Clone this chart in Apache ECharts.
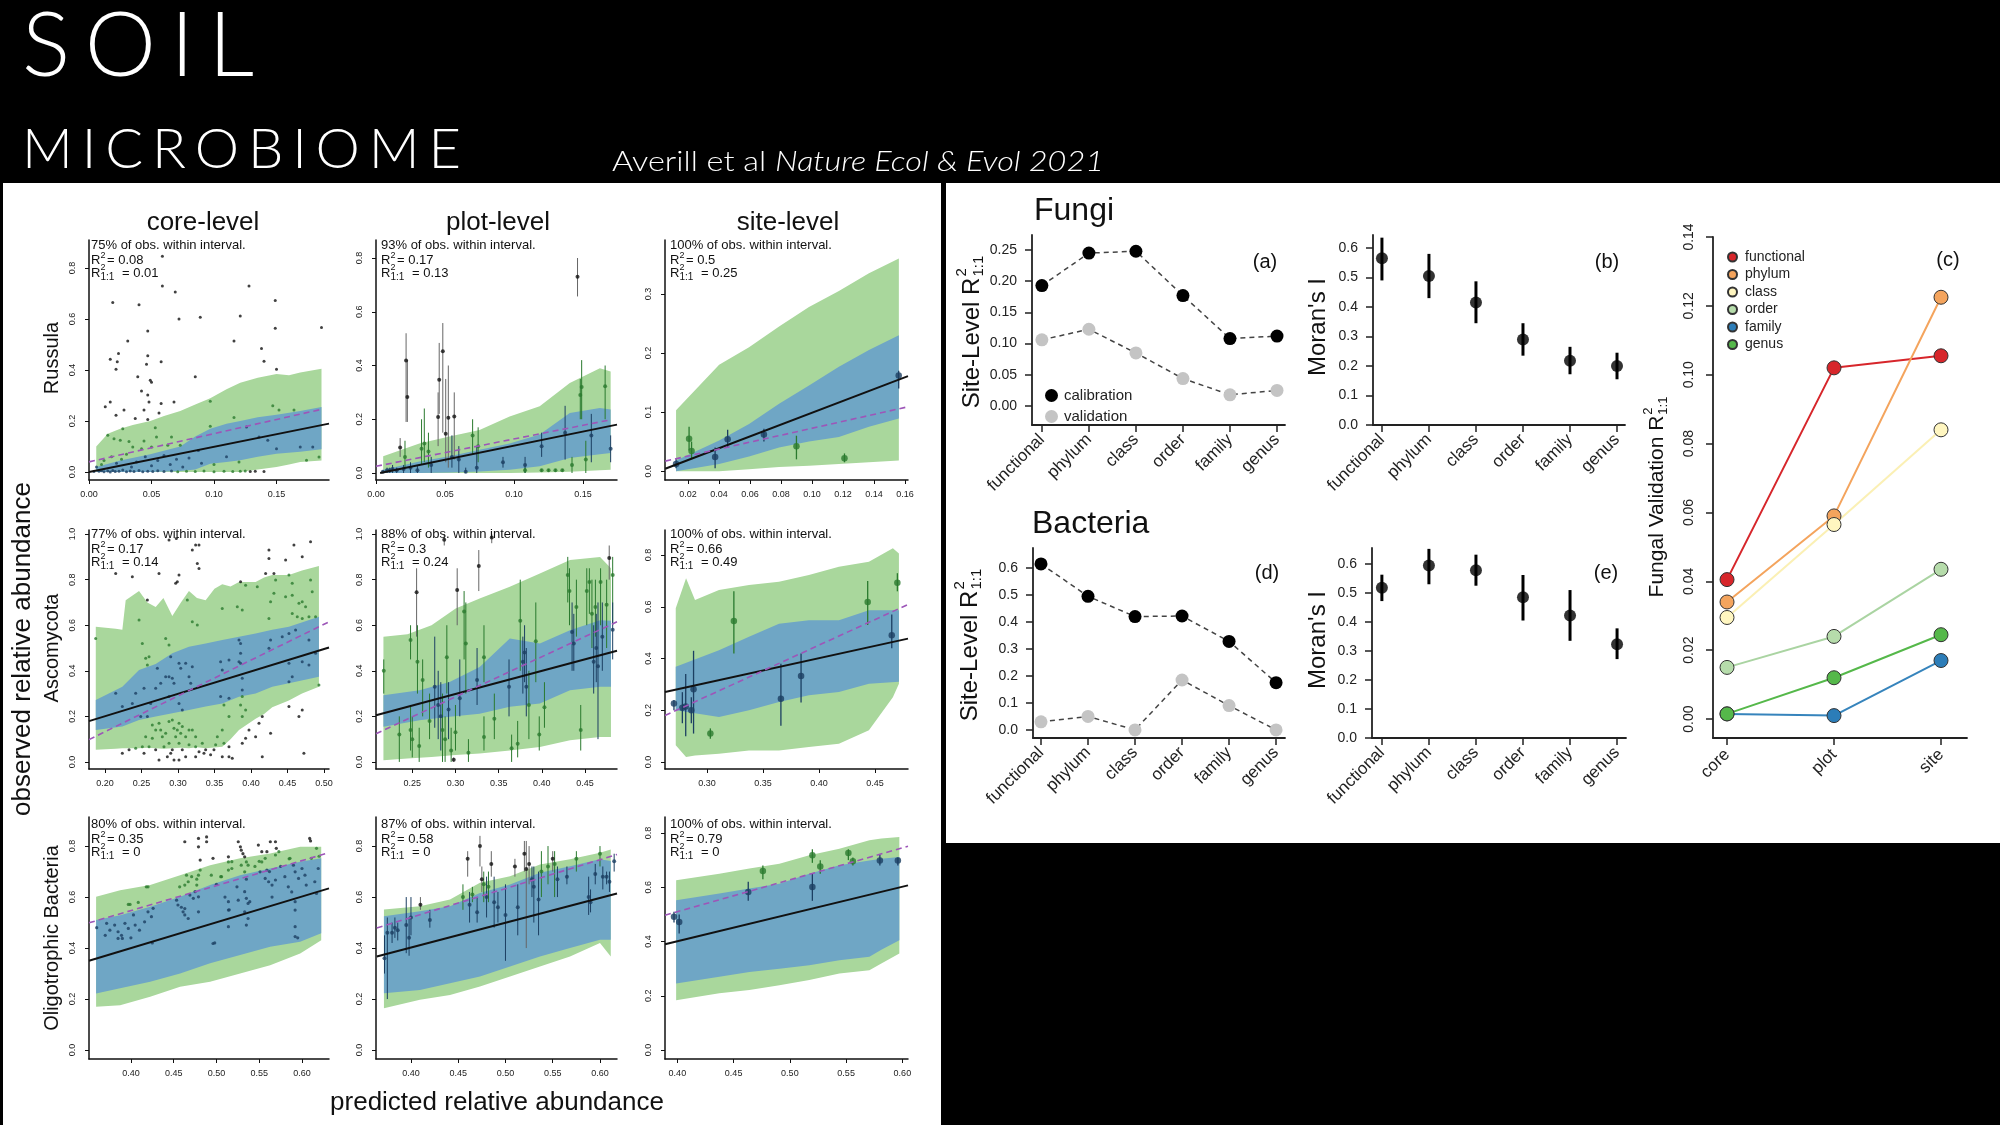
<!DOCTYPE html>
<html>
<head>
<meta charset="utf-8">
<title>Soil microbiome</title>
<script src="https://cdn.jsdelivr.net/npm/echarts@6/dist/echarts.min.js"></script>
<style>
  html, body { margin: 0; padding: 0; background: #000; }
  #chart { width: 2000px; height: 1125px; }
</style>
</head>
<body>
<div id="chart"></div>
<script>
// ---------- data: right side summary panels ----------
var taxLevels = ['functional', 'phylum', 'class', 'order', 'family', 'genus'];
var fungiCalib = [0.193, 0.245, 0.248, 0.177, 0.108, 0.112];
var fungiValid = [0.106, 0.123, 0.085, 0.044, 0.018, 0.025];
var fungiMoran = [0.565, 0.505, 0.415, 0.29, 0.218, 0.2];
var fungiMoranLo = [0.49, 0.43, 0.345, 0.235, 0.172, 0.155];
var fungiMoranHi = [0.635, 0.58, 0.487, 0.345, 0.265, 0.245];
var bactCalib = [0.615, 0.495, 0.42, 0.422, 0.328, 0.175];
var bactValid = [0.03, 0.05, 0.0, 0.185, 0.09, 0.0];
var bactMoran = [0.518, 0.595, 0.578, 0.485, 0.422, 0.323];
var bactMoranLo = [0.472, 0.53, 0.525, 0.405, 0.335, 0.272];
var bactMoranHi = [0.563, 0.652, 0.632, 0.562, 0.51, 0.378];

var scaleLevels = ['core', 'plot', 'site'];
var valFunctional = [0.0405, 0.102, 0.1055];
var valPhylum = [0.034, 0.059, 0.1225];
var valClass = [0.0295, 0.0565, 0.084];
var valOrder = [0.015, 0.024, 0.0435];
var valFamily = [0.0015, 0.001, 0.017];
var valGenus = [0.0015, 0.012, 0.0245];

var ticksFungiR2 = [0, 0.05, 0.10, 0.15, 0.20, 0.25];
var ticksBactR2 = [0, 0.1, 0.2, 0.3, 0.4, 0.5, 0.6];
var ticksMoran = [0, 0.1, 0.2, 0.3, 0.4, 0.5, 0.6];
var ticksFungalVal = [0, 0.02, 0.04, 0.06, 0.08, 0.10, 0.12, 0.14];

// ---------- data: left 3x3 grid ----------
var ticksRussCoreX = [0, 0.05, 0.10, 0.15];
var ticksRussPlotX = [0, 0.05, 0.10, 0.15];
var ticksRussSiteX = [0.02, 0.04, 0.06, 0.08, 0.10, 0.12, 0.14, 0.16];
var ticksAscoCoreX = [0.20, 0.25, 0.30, 0.35, 0.40, 0.45, 0.50];
var ticksAscoPlotX = [0.25, 0.30, 0.35, 0.40, 0.45];
var ticksAscoSiteX = [0.30, 0.35, 0.40, 0.45];
var ticksOligoX = [0.40, 0.45, 0.50, 0.55, 0.60];
var ticksY08 = [0, 0.2, 0.4, 0.6, 0.8];
var ticksY10 = [0, 0.2, 0.4, 0.6, 0.8, 1.0];
var ticksY03 = [0, 0.1, 0.2, 0.3];

var pctWithin = ['75%', '93%', '100%', '77%', '88%', '100%', '80%', '87%', '100%'];
var r2All = ['0.08', '0.17', '0.5', '0.17', '0.3', '0.66', '0.35', '0.58', '0.79'];
var r2OneToOne = ['0.01', '0.13', '0.25', '0.14', '0.24', '0.49', '0', '0', '0'];

// bands: [x, lower, upper]
var russCore95 = [[0.0058,0,0.10],[0.015,0,0.15],[0.025,0,0.17],[0.035,0,0.185],[0.049,0,0.20],[0.06,0,0.22],[0.073,0,0.24],[0.085,0,0.265],[0.097,0,0.29],[0.11,0,0.325],[0.121,0,0.35],[0.135,0.01,0.37],[0.15,0.02,0.385],[0.16,0.03,0.38],[0.169,0.04,0.39],[0.186,0.045,0.405]];
var russCore50 = [[0.0058,0,0.02],[0.025,0,0.045],[0.049,0,0.07],[0.073,0.004,0.10],[0.085,0.01,0.14],[0.097,0.033,0.17],[0.11,0.04,0.19],[0.121,0.046,0.20],[0.135,0.06,0.215],[0.15,0.072,0.225],[0.169,0.08,0.24],[0.186,0.09,0.255]];
var russCoreFit = [[0, 0], [0.192, 0.19]];
var russCoreOne = [[0, 0.04], [0.185, 0.245]];
var russCorePts = [[0.0587,0.846],[0.128,0.73],[0.0587,0.73],[0.069,0.706],[0.019,0.665],[0.040,0.656],[0.072,0.6],[0.089,0.607],[0.121,0.612],[0.149,0.673],[0.149,0.564],[0.186,0.567],[0.031,0.514],[0.116,0.514],[0.138,0.485],[0.047,0.553],[0.017,0.442],[0.0226,0.433],[0.0236,0.465],[0.047,0.456],[0.046,0.423],[0.0577,0.433],[0.0216,0.403],[0.140,0.435],[0.150,0.403],[0.039,0.374],[0.085,0.374],[0.049,0.36],[0.05,0.352],[0.042,0.318],[0.047,0.302],[0.048,0.275],[0.0577,0.269],[0.068,0.275],[0.017,0.275],[0.013,0.256],[0.028,0.243],[0.044,0.243],[0.056,0.232],[0.0216,0.223],[0.037,0.21],[0.047,0.206],[0.053,0.174],[0.097,0.278],[0.164,0.243],[0.147,0.26],[0.116,0.214],[0.097,0.18],[0.027,0.17],[0.015,0.144],[0.02,0.131],[0.025,0.125],[0.032,0.12],[0.044,0.122],[0.054,0.138],[0.066,0.138],[0.035,0.098],[0.042,0.092],[0.05,0.098],[0.063,0.105],[0.073,0.105],[0.0875,0.085],[0.15,0.092],[0.169,0.098],[0.179,0.098],[0.184,0.059],[0.174,0.046],[0.136,0.138],[0.143,0.125],[0.152,0.243],[0.126,0.177],
  [0.004,0.002],[0.008,0.003],[0.010,0.005],[0.012,0.001],[0.015,0.004],[0.017,0.0],[0.019,0.006],[0.021,0.002],[0.024,0.003],[0.027,0.008],[0.030,0.001],[0.033,0.004],[0.036,0.002],[0.040,0.006],[0.043,0.001],[0.047,0.003],[0.051,0.002],[0.055,0.005],[0.060,0.002],[0.066,0.004],[0.071,0.001],[0.078,0.003],[0.085,0.002],[0.092,0.004],[0.100,0.001],[0.108,0.003],[0.115,0.002],[0.121,0.003],[0.125,0.004],[0.129,0.002],[0.133,0.003],[0.14,0.002],
  [0.006,0.02],[0.01,0.03],[0.012,0.045],[0.018,0.06],[0.022,0.035],[0.026,0.05],[0.03,0.07],[0.034,0.02],[0.038,0.04],[0.045,0.06],[0.05,0.025],[0.055,0.045],[0.06,0.065],[0.065,0.03],[0.07,0.05],[0.075,0.02],[0.08,0.055],[0.09,0.035],[0.1,0.03],[0.11,0.06],[0.12,0.04]];

var russPlot95 = [[0.0052,0,0.062],[0.0314,0,0.11],[0.0532,0,0.136],[0.075,0,0.16],[0.0968,0,0.21],[0.1186,0.002,0.248],[0.1404,0.005,0.335],[0.1622,0.01,0.39],[0.17,0.012,0.378]];
var russPlot50 = [[0.0052,0,0.012],[0.0314,0,0.043],[0.0532,0.002,0.062],[0.075,0.006,0.087],[0.0968,0.012,0.11],[0.1186,0.025,0.143],[0.1404,0.056,0.223],[0.1622,0.07,0.242],[0.17,0.074,0.236]];
var russPlotFit = [[0.003, 0.0], [0.1746, 0.18]];
var russPlotOne = [[0, 0.025], [0.17, 0.198]];
// plot/site points: [x, y, lower, upper]
var russPlotPts = [[0.0218,0.419,0.19,0.52],[0.0227,0.283,0.19,0.42],[0.0458,0.347,0.22,0.484],[0.0484,0.453,0.15,0.558],[0.045,0.208,0.1,0.3],[0.0524,0.206,0.02,0.4],[0.0567,0.21,0.05,0.3],[0.0505,0.146,0.04,0.35],[0.035,0.11,0.04,0.24],[0.0175,0.095,0.06,0.13],[0.021,0.06,0.02,0.12],[0.033,0.09,0.03,0.2],[0.038,0.08,0.02,0.15],[0.055,0.06,0.02,0.14],[0.07,0.14,0.07,0.2],[0.074,0.1,0.04,0.17],[0.073,0.02,0.0,0.1],[0.092,0.04,0.02,0.06],[0.108,0.03,0.0,0.06],[0.108,0.01,0.0,0.02],[0.12,0.1,0.06,0.15],[0.146,0.73,0.657,0.8],[0.149,0.32,0.2,0.42],[0.148,0.29,0.2,0.35],[0.166,0.323,0.2,0.4],[0.156,0.14,0.04,0.22],[0.152,0.05,0.0,0.12],[0.17,0.09,0.04,0.14],[0.142,0.03,0.0,0.06],[0.137,0.15,0.05,0.25],[0.12,0.01,0.005,0.015],[0.125,0.01,0.005,0.015],[0.13,0.01,0.005,0.015],[0.135,0.01,0.005,0.015],[0.005,0.005,0.0,0.01],[0.008,0.01,0.0,0.02],[0.01,0.01,0.0,0.02],[0.012,0.015,0.0,0.03],[0.015,0.01,0.0,0.02],[0.02,0.015,0.0,0.03],[0.025,0.02,0.0,0.04],[0.03,0.01,0.0,0.03],[0.04,0.03,0.0,0.06],[0.06,0.05,0.0,0.1],[0.065,0.005,0.0,0.02]];

var russSite95 = [[0.0123,0,0.103],[0.0401,0,0.18],[0.0594,0.003,0.21],[0.0788,0.007,0.245],[0.0981,0.009,0.278],[0.1174,0.012,0.305],[0.1368,0.015,0.335],[0.1561,0.018,0.36]];
var russSite50 = [[0.0123,0,0.018],[0.0401,0.012,0.052],[0.0594,0.025,0.08],[0.0788,0.04,0.114],[0.0981,0.05,0.145],[0.1174,0.058,0.177],[0.1368,0.075,0.205],[0.1561,0.089,0.23]];
var russSiteFit = [[0.0053, 0.004], [0.162, 0.161]];
var russSiteOne = [[0.0053, 0.017], [0.162, 0.109]];
var russSitePts = [[0.0123,0.012,0.005,0.02],[0.0207,0.055,0.035,0.075],[0.0223,0.034,0.02,0.05],[0.0375,0.024,0.005,0.04],[0.0456,0.054,0.04,0.07],[0.069,0.062,0.05,0.072],[0.09,0.042,0.02,0.06],[0.121,0.022,0.015,0.03],[0.156,0.162,0.14,0.17]];

var ascoCore95 = [[0.1873,0.053,0.593],[0.2146,0.058,0.585],[0.2237,0.06,0.58],[0.2283,0.06,0.71],[0.2466,0.06,0.75],[0.2580,0.062,0.70],[0.2694,0.06,0.68],[0.2800,0.058,0.72],[0.2922,0.06,0.64],[0.3040,0.062,0.70],[0.315,0.06,0.75],[0.3260,0.064,0.72],[0.3379,0.06,0.71],[0.3500,0.063,0.76],[0.3607,0.067,0.78],[0.3720,0.10,0.77],[0.3836,0.14,0.79],[0.4064,0.19,0.79],[0.4180,0.21,0.81],[0.4292,0.24,0.82],[0.452,0.27,0.82],[0.4700,0.30,0.84],[0.4932,0.33,0.86]];
var ascoCore50 = [[0.1873,0.14,0.272],[0.2237,0.155,0.33],[0.2466,0.184,0.403],[0.2694,0.199,0.43],[0.2922,0.214,0.477],[0.315,0.228,0.506],[0.3379,0.243,0.52],[0.3607,0.257,0.535],[0.3836,0.286,0.55],[0.4064,0.30,0.564],[0.4292,0.33,0.58],[0.452,0.345,0.593],[0.4932,0.374,0.637]];
var ascoCoreFit = [[0.178, 0.179], [0.507, 0.502]];
var ascoCoreOne = [[0.178, 0.098], [0.507, 0.615]];
var ascoCorePts = [[0.2877,0.974],[0.2977,0.981],[0.3196,0.93],[0.3242,0.952],[0.3288,0.952],[0.3265,0.871],[0.3288,0.849],[0.3014,0.82],[0.2991,0.791],[0.2968,0.784],[0.2374,0.813],[0.2146,0.827],[0.258,0.711],[0.274,0.827],[0.4247,0.93],[0.4247,0.893],[0.4589,0.952],[0.4817,0.966],[0.4475,0.886],[0.4703,0.901],[0.3128,0.711],[0.1872,0.542],[0.3858,0.791],[0.3927,0.776],[0.4338,0.798],[0.4521,0.82],[0.4315,0.827],[0.4201,0.827],[0.4087,0.769],[0.4315,0.74],[0.4475,0.725],[0.4566,0.732],[0.4703,0.703],[0.4658,0.696],[0.4749,0.681],[0.484,0.747],[0.4817,0.798],[0.4566,0.784],[0.3607,0.674],[0.3813,0.681],[0.3881,0.667],[0.4247,0.63],[0.4269,0.703],[0.4566,0.652],[0.4635,0.637],[0.4703,0.63],[0.4795,0.637],[0.4886,0.637],[0.3196,0.615],[0.3265,0.601],[0.2466,0.623],[0.2831,0.542],[0.2877,0.513],[0.2511,0.52],[0.2557,0.455],[0.2603,0.462],[0.258,0.425],[0.29,0.462],[0.3014,0.433],[0.3037,0.411],[0.3105,0.433],[0.2717,0.411],[0.2877,0.374],[0.2945,0.345],[0.3151,0.374],[0.3196,0.418],[0.3174,0.345],[0.2694,0.323],[0.2763,0.345],[0.2831,0.374],[0.2922,0.367],[0.3584,0.44],[0.3607,0.404],[0.3699,0.447],[0.3836,0.44],[0.3858,0.433],[0.3881,0.367],[0.3836,0.535],[0.3858,0.52],[0.3858,0.477],[0.4247,0.499],[0.4269,0.535],[0.4429,0.55],[0.4521,0.564],[0.4612,0.579],[0.4703,0.44],[0.4521,0.433],[0.4566,0.374],[0.4521,0.352],[0.4795,0.425],[0.4932,0.338],[0.4795,0.535],[0.4886,0.477],[0.3584,0.287],[0.363,0.25],[0.3699,0.279],[0.3858,0.25],[0.3881,0.316],[0.3881,0.287],[0.3927,0.228],[0.3699,0.199],[0.3881,0.199],[0.3973,0.14],[0.411,0.17],[0.4155,0.199],[0.4269,0.126],[0.4521,0.243],[0.4658,0.199],[0.4703,0.228],[0.4064,0.111],[0.3927,0.104],[0.3881,0.082],[0.3607,0.14],[0.363,0.082],[0.3699,0.067],[0.3516,0.075],[0.3379,0.053],[0.3242,0.023],[0.3288,0.045],[0.3151,0.075],[0.3014,0.082],[0.3059,0.053],[0.3105,0.023],[0.3014,0.009],[0.2945,0.009],[0.2922,0.053],[0.2877,0.082],[0.2808,0.067],[0.2785,0.111],[0.2763,0.14],[0.274,0.17],[0.2877,0.177],[0.2922,0.184],[0.2945,0.148],[0.2991,0.14],[0.3014,0.17],[0.3037,0.126],[0.2968,0.111],[0.2831,0.126],[0.2694,0.14],[0.2648,0.104],[0.2557,0.111],[0.2511,0.067],[0.242,0.06],[0.2329,0.053],[0.2237,0.038],[0.2534,0.038],[0.2603,0.067],[0.2694,0.053],[0.274,0.009],[0.2854,0.023],[0.29,0.038],[0.3059,0.155],[0.3105,0.111],[0.3151,0.14],[0.3196,0.14],[0.3242,0.111],[0.3242,0.067],[0.3333,0.082],[0.3356,0.038],[0.3447,0.031],[0.3493,0.053],[0.3539,0.111],[0.3607,0.023],[0.3699,0.023],[0.3744,0.016],[0.4155,0.023],[0.4726,0.038],[0.2146,0.301],[0.2237,0.243],[0.2374,0.257],[0.242,0.301],[0.2534,0.323],[0.2626,0.257],[0.2877,0.287],[0.3014,0.257],[0.3059,0.228],[0.2648,0.162],[0.258,0.199],[0.2489,0.199]];

var ascoPlot95 = [[0.2166,0.007,0.55],[0.2444,0.015,0.56],[0.2723,0.022,0.60],[0.3002,0.03,0.673],[0.328,0.037,0.717],[0.3629,0.05,0.769],[0.3977,0.066,0.827],[0.4326,0.095,0.886],[0.4674,0.11,0.90],[0.48,0.11,0.85]];
var ascoPlot50 = [[0.2166,0.154,0.293],[0.2584,0.183,0.315],[0.2932,0.198,0.351],[0.328,0.212,0.417],[0.3629,0.242,0.542],[0.3977,0.256,0.52],[0.4326,0.315,0.578],[0.4674,0.33,0.622],[0.48,0.33,0.62]];
var ascoPlotFit = [[0.208, 0.205], [0.487, 0.488]];
var ascoPlotOne = [[0.208, 0.124], [0.487, 0.615]];
var ascoPlotPts = [[0.217,0.4,0.3,0.45],[0.248,0.535,0.45,0.6],[0.255,0.745,0.55,0.85],[0.256,0.44,0.3,0.6],[0.262,0.36,0.2,0.45],[0.27,0.18,0.1,0.3],[0.248,0.14,0.05,0.25],[0.258,0.07,0.0,0.15],[0.25,0.1,0.02,0.2],[0.235,0.12,0.0,0.2],[0.276,0.33,0.15,0.55],[0.28,0.25,0.1,0.4],[0.283,0.2,0.05,0.35],[0.285,0.14,0.0,0.3],[0.288,0.1,0.0,0.2],[0.287,0.975,0.95,1.0],[0.29,0.46,0.3,0.6],[0.292,0.23,0.1,0.35],[0.295,0.05,0.0,0.15],[0.3,0.13,0.05,0.25],[0.302,0.755,0.6,0.85],[0.305,0.28,0.2,0.45],[0.31,0.66,0.45,0.75],[0.312,0.52,0.3,0.7],[0.315,0.04,0.0,0.1],[0.298,0.01,0.0,0.02],[0.325,0.36,0.25,0.5],[0.327,0.86,0.75,0.93],[0.333,0.46,0.35,0.6],[0.333,0.11,0.05,0.2],[0.342,0.985,0.96,1.0],[0.345,0.19,0.1,0.3],[0.362,0.33,0.2,0.45],[0.365,0.06,0.0,0.12],[0.375,0.62,0.4,0.8],[0.378,0.44,0.3,0.55],[0.38,0.48,0.35,0.6],[0.382,0.33,0.2,0.5],[0.385,0.25,0.1,0.4],[0.372,0.08,0.02,0.18],[0.393,0.53,0.35,0.7],[0.397,0.12,0.05,0.2],[0.403,0.24,0.15,0.35],[0.43,0.82,0.7,0.9],[0.432,0.75,0.6,0.85],[0.435,0.57,0.4,0.7],[0.437,0.52,0.4,0.65],[0.44,0.68,0.55,0.8],[0.445,0.14,0.05,0.25],[0.452,0.75,0.6,0.85],[0.455,0.79,0.65,0.85],[0.458,0.65,0.5,0.8],[0.46,0.44,0.3,0.6],[0.462,0.68,0.55,0.8],[0.463,0.5,0.35,0.65],[0.465,0.42,0.1,0.7],[0.468,0.79,0.6,0.85],[0.47,0.55,0.4,0.7],[0.475,0.69,0.5,0.8],[0.478,0.895,0.8,0.95],[0.482,0.82,0.6,0.9],[0.482,0.58,0.45,0.7]];

var ascoSite95 = [[0.2721,0.065,0.594],[0.2813,0.019,0.71],[0.2893,0.025,0.626],[0.3107,0.032,0.665],[0.3375,0.045,0.684],[0.3643,0.045,0.697],[0.391,0.058,0.723],[0.4178,0.071,0.755],[0.4446,0.123,0.774],[0.466,0.25,0.826],[0.4714,0.303,0.806]];
var ascoSite50 = [[0.2721,0.20,0.368],[0.3107,0.174,0.432],[0.3375,0.20,0.484],[0.3643,0.232,0.535],[0.391,0.258,0.548],[0.4178,0.271,0.548],[0.4446,0.303,0.587],[0.4714,0.31,0.587]];
var ascoSiteFit = [[0.2625, 0.271], [0.4795, 0.477]];
var ascoSiteOne = [[0.2625, 0.18], [0.4795, 0.609]];
var ascoSitePts = [[0.2705,0.226,0.2,0.24],[0.278,0.21,0.15,0.27],[0.281,0.215,0.1,0.34],[0.286,0.2,0.15,0.25],[0.288,0.281,0.11,0.43],[0.303,0.11,0.09,0.13],[0.324,0.545,0.42,0.66],[0.366,0.245,0.14,0.38],[0.384,0.333,0.23,0.42],[0.4435,0.619,0.53,0.7],[0.465,0.49,0.44,0.57],[0.47,0.693,0.66,0.73]];

var oligoCore95 = [[0.3593,0.17,0.601],[0.3874,0.176,0.627],[0.4225,0.209,0.647],[0.4575,0.248,0.686],[0.4926,0.268,0.725],[0.5277,0.30,0.752],[0.5628,0.333,0.771],[0.5979,0.379,0.797],[0.6225,0.431,0.797]];
var oligoCore50 = [[0.3593,0.222,0.51],[0.3874,0.242,0.529],[0.4225,0.268,0.562],[0.4575,0.30,0.601],[0.4926,0.34,0.647],[0.5277,0.373,0.686],[0.5628,0.405,0.712],[0.5979,0.425,0.739],[0.6225,0.458,0.752]];
var oligoCoreFit = [[0.351, 0.35], [0.6316, 0.634]];
var oligoCoreOne = [[0.351, 0.499], [0.6316, 0.774]];
var oligoCorePts = [[0.36,0.48],[0.3716,0.497],[0.3754,0.47],[0.381,0.49],[0.385,0.464],[0.389,0.45],[0.393,0.497],[0.397,0.477],[0.403,0.53],[0.405,0.49],[0.41,0.47],[0.416,0.503],[0.42,0.542],[0.424,0.523],[0.426,0.556],[0.397,0.571],[0.399,0.571],[0.4086,0.579],[0.418,0.64],[0.42,0.64],[0.385,0.438],[0.39,0.438],[0.37,0.45],
  [0.4534,0.588],[0.455,0.569],[0.459,0.56],[0.461,0.542],[0.463,0.53],[0.457,0.64],[0.463,0.647],[0.467,0.66],[0.471,0.68],[0.465,0.686],[0.469,0.608],[0.473,0.595],[0.475,0.621],[0.479,0.601],[0.477,0.67],[0.479,0.686],[0.481,0.706],[0.463,0.555],[0.467,0.516],[0.479,0.542],[0.477,0.647],[0.479,0.83],[0.463,0.817],[0.479,0.797],[0.481,0.745],[0.4885,0.836],[0.4885,0.817],
  [0.496,0.752],[0.494,0.686],[0.496,0.418],[0.506,0.68],[0.514,0.758],[0.514,0.738],[0.514,0.706],[0.518,0.712],[0.518,0.739],[0.514,0.582],[0.514,0.549],[0.514,0.484],[0.524,0.64],[0.5255,0.817],[0.528,0.797],[0.529,0.784],[0.531,0.77],[0.533,0.758],[0.535,0.738],[0.537,0.725],[0.529,0.725],[0.533,0.699],[0.535,0.67],[0.533,0.621],[0.535,0.595],[0.537,0.575],[0.533,0.542],[0.537,0.516],[0.535,0.49],[0.539,0.582],[0.5255,0.588],
  [0.549,0.804],[0.553,0.778],[0.557,0.752],[0.559,0.778],[0.553,0.738],[0.551,0.699],[0.557,0.673],[0.561,0.66],[0.565,0.647],[0.569,0.667],[0.559,0.706],[0.569,0.765],[0.57,0.791],[0.573,0.778],[0.563,0.817],[0.569,0.817],
  [0.586,0.752],[0.59,0.725],[0.592,0.699],[0.596,0.673],[0.6,0.712],[0.6035,0.686],[0.605,0.647],[0.609,0.83],[0.611,0.752],[0.615,0.66],[0.617,0.791],[0.619,0.712],[0.592,0.582],[0.592,0.549],[0.592,0.484],[0.592,0.445],[0.584,0.64],[0.588,0.62],[0.617,0.614],
  [0.4,0.44],[0.425,0.42],[0.498,0.42],[0.595,0.44],[0.5,0.65],[0.505,0.68],[0.51,0.6],[0.515,0.55],[0.545,0.72],[0.55,0.74],[0.562,0.7],[0.565,0.6],[0.575,0.72],[0.58,0.68],[0.585,0.75],[0.61,0.82],[0.62,0.76]];

var oligoPlot95 = [[0.3714,0.164,0.551],[0.4095,0.197,0.564],[0.4413,0.216,0.59],[0.473,0.249,0.656],[0.5048,0.289,0.682],[0.5365,0.328,0.728],[0.5683,0.367,0.748],[0.60,0.42,0.774],[0.6114,0.367,0.787]];
var oligoPlot50 = [[0.3714,0.223,0.525],[0.4095,0.236,0.544],[0.4413,0.262,0.564],[0.473,0.289,0.616],[0.5048,0.328,0.649],[0.5365,0.367,0.695],[0.5683,0.40,0.721],[0.60,0.433,0.748],[0.6114,0.433,0.741]];
var oligoPlotFit = [[0.3638, 0.367], [0.618, 0.614]];
var oligoPlotOne = [[0.3638, 0.479], [0.618, 0.767]];
var oligoPlotPts = [[0.372,0.36,0.3,0.45],[0.375,0.46,0.2,0.52],[0.38,0.46,0.42,0.5],[0.383,0.48,0.44,0.52],[0.386,0.47,0.43,0.5],[0.395,0.49,0.38,0.6],[0.398,0.44,0.37,0.52],[0.4,0.52,0.45,0.6],[0.41,0.57,0.55,0.6],[0.42,0.51,0.48,0.55],[0.455,0.6,0.55,0.65],[0.46,0.75,0.68,0.78],[0.462,0.57,0.5,0.62],[0.465,0.61,0.58,0.64],[0.47,0.54,0.5,0.6],[0.473,0.8,0.72,0.84],[0.475,0.67,0.62,0.72],[0.477,0.65,0.58,0.7],[0.48,0.6,0.52,0.68],[0.482,0.64,0.58,0.7],[0.485,0.73,0.68,0.78],[0.488,0.58,0.48,0.68],[0.492,0.56,0.5,0.62],[0.5,0.53,0.35,0.65],[0.51,0.72,0.68,0.75],[0.513,0.56,0.45,0.65],[0.52,0.77,0.7,0.82],[0.522,0.71,0.4,0.82],[0.525,0.73,0.65,0.8],[0.528,0.67,0.6,0.72],[0.53,0.64,0.5,0.72],[0.535,0.59,0.45,0.7],[0.538,0.7,0.6,0.78],[0.545,0.72,0.65,0.8],[0.55,0.75,0.7,0.78],[0.552,0.73,0.6,0.78],[0.555,0.67,0.6,0.72],[0.565,0.68,0.65,0.72],[0.575,0.75,0.7,0.78],[0.588,0.6,0.53,0.68],[0.59,0.58,0.54,0.63],[0.595,0.69,0.65,0.73],[0.6,0.77,0.72,0.8],[0.603,0.68,0.63,0.72],[0.607,0.68,0.65,0.7],[0.61,0.66,0.62,0.7],[0.615,0.74,0.7,0.77]];

var oligoSite95 = [[0.3989,0.184,0.626],[0.4373,0.209,0.65],[0.464,0.221,0.669],[0.4907,0.239,0.687],[0.5173,0.258,0.718],[0.544,0.282,0.742],[0.5707,0.294,0.773],[0.5813,0.319,0.78],[0.5973,0.356,0.785]];
var oligoSite50 = [[0.3989,0.245,0.552],[0.4373,0.27,0.577],[0.464,0.288,0.595],[0.4907,0.30,0.613],[0.5173,0.313,0.65],[0.544,0.331,0.681],[0.5707,0.344,0.699],[0.5813,0.37,0.705],[0.5973,0.405,0.712]];
var oligoSiteFit = [[0.389, 0.39], [0.605, 0.607]];
var oligoSiteOne = [[0.389, 0.497], [0.605, 0.751]];
var oligoSitePts = [[0.397,0.491,0.47,0.51],[0.4016,0.472,0.43,0.5],[0.463,0.583,0.55,0.62],[0.476,0.66,0.63,0.68],[0.52,0.718,0.69,0.74],[0.52,0.601,0.55,0.65],[0.527,0.677,0.65,0.7],[0.552,0.726,0.7,0.74],[0.556,0.696,0.68,0.71],[0.58,0.699,0.68,0.72],[0.596,0.699,0.68,0.71]];

// ---------- layout ----------
var FAM = '"Liberation Sans", Arial, Helvetica, sans-serif';
var TFAM = 'Lato, "Open Sans", sans-serif';
var GREEN = '#a9d79c', BLUE = '#6fa6c5', PURPLE = '#9d56b8';
var leftCols = [89, 376, 665], leftW = [240, 241, 243];
var leftRows = [240, 530, 817], leftH = [240, 239, 242];

var plots = [
  {b95: russCore95, b50: russCore50, pts: russCorePts, fit: russCoreFit, one: russCoreOne, xr: [0, 0.192], yr: [-0.031, 0.91], xt: ticksRussCoreX, yt: ticksY08, size: 3},
  {b95: russPlot95, b50: russPlot50, pts: russPlotPts, fit: russPlotFit, one: russPlotOne, xr: [0, 0.1746], yr: [-0.026, 0.867], xt: ticksRussPlotX, yt: ticksY08, size: 4},
  {b95: russSite95, b50: russSite50, pts: russSitePts, fit: russSiteFit, one: russSiteOne, xr: [0.00516, 0.162], yr: [-0.015, 0.3915], xt: ticksRussSiteX, yt: ticksY03, size: 6.5},
  {b95: ascoCore95, b50: ascoCore50, pts: ascoCorePts, fit: ascoCoreFit, one: ascoCoreOne, xr: [0.178, 0.507], yr: [-0.031, 1.018], xt: ticksAscoCoreX, yt: ticksY10, size: 3},
  {b95: ascoPlot95, b50: ascoPlot50, pts: ascoPlotPts, fit: ascoPlotFit, one: ascoPlotOne, xr: [0.208, 0.487], yr: [-0.031, 1.018], xt: ticksAscoPlotX, yt: ticksY10, size: 4},
  {b95: ascoSite95, b50: ascoSite50, pts: ascoSitePts, fit: ascoSiteFit, one: ascoSiteOne, xr: [0.2625, 0.4795], yr: [-0.027, 0.897], xt: ticksAscoSiteX, yt: ticksY08, size: 6.5},
  {b95: oligoCore95, b50: oligoCore50, pts: oligoCorePts, fit: oligoCoreFit, one: oligoCoreOne, xr: [0.351, 0.6316], yr: [-0.035, 0.914], xt: ticksOligoX, yt: ticksY08, size: 3.2},
  {b95: oligoPlot95, b50: oligoPlot50, pts: oligoPlotPts, fit: oligoPlotFit, one: oligoPlotOne, xr: [0.363, 0.618], yr: [-0.035, 0.914], xt: ticksOligoX, yt: ticksY08, size: 4},
  {b95: oligoSite95, b50: oligoSite50, pts: oligoSitePts, fit: oligoSiteFit, one: oligoSiteOne, xr: [0.389, 0.605], yr: [-0.033, 0.859], xt: ticksOligoX, yt: ticksY08, size: 6.5}
];

var mctx = document.createElement('canvas').getContext('2d');
function fontW(s, font) { mctx.font = font; return mctx.measureText(s).width; }
function textW(s, size, fam, weight) {
  return fontW(s, (weight || 'normal') + ' ' + size + 'px ' + (fam || FAM));
}

function txt(x, y, s, size, o) {
  o = o || {};
  return {type: 'text', x: x, y: y, rotation: o.rot || 0, z: 100, silent: true,
    style: {text: s, fontSize: size, fontFamily: o.fam || FAM, fontWeight: o.weight || 'normal',
      fontStyle: o.style || 'normal', fill: o.color || '#111', align: o.align || 'left', verticalAlign: 'middle'}};
}

// letters spread between x0 and x1 (letter-spaced title)
function spaced(str, x0, x1, y, size) {
  var ch = str.split('');
  var ws = ch.map(function (c) { return textW(c, size, TFAM, 300); });
  var sum = ws.reduce(function (a, b) { return a + b; }, 0);
  var gap = (x1 - x0 - sum) / (ch.length - 1);
  var out = [], x = x0;
  ch.forEach(function (c, k) {
    out.push(txt(x, y, c, size, {fam: TFAM, weight: 300, color: '#fff'}));
    x += ws[k] + gap;
  });
  return out;
}

function stats(x, y, k) {
  var y2 = y + 15, y3 = y + 28;
  return [
    txt(x, y, pctWithin[k] + ' of obs. within interval.', 13),
    txt(x, y2, 'R', 13), txt(x + 9.5, y2 - 4, '2', 9), txt(x + 16, y2, '= ' + r2All[k], 13),
    txt(x, y3, 'R', 13), txt(x + 9.5, y3 - 5, '2', 9), txt(x + 9.5, y3 + 4, '1:1', 10), txt(x + 31, y3, '= ' + r2OneToOne[k], 13)
  ];
}

function r2AxisName(cx, cy, before, size) {
  var small = Math.round(size * 0.62);
  var w1 = textW(before + 'R', size), w2 = textW('1:1', small);
  var x0 = -(w1 + 1 + w2) / 2;
  function st(t, s) { return {text: t, fontSize: s, fontFamily: FAM, fill: '#111', verticalAlign: 'middle'}; }
  return {type: 'group', x: cx, y: cy, rotation: Math.PI / 2, children: [
    {type: 'text', x: x0, y: 0, z: 100, style: st(before + 'R', size)},
    {type: 'text', x: x0 + w1 + 1, y: -size * 0.42, z: 100, style: st('2', small)},
    {type: 'text', x: x0 + w1 + 1, y: size * 0.3, z: 100, style: st('1:1', small)}
  ]};
}

function interp(band, x, k) {
  if (x <= band[0][0]) return band[0][k];
  for (var j = 1; j < band.length; j++) {
    if (x <= band[j][0]) {
      var a = band[j - 1], b = band[j], t = (x - a[0]) / (b[0] - a[0]);
      return a[k] + t * (b[k] - a[k]);
    }
  }
  return band[band.length - 1][k];
}
function ptColor(v, d, outside) {
  var x = v[0], y = v[1];
  if (y >= interp(d.b50, x, 1) && y <= interp(d.b50, x, 2)) return '#1c3f62';
  if (y >= interp(d.b95, x, 1) && y <= interp(d.b95, x, 2)) return '#2a7a2e';
  return outside;
}

var grid = [], xAxis = [], yAxis = [], series = [];

function smallAxis(gi, r, ticks, dp, isY) {
  return {gridIndex: gi, type: 'value', min: r[0], max: r[1],
    axisLine: {show: true, onZero: false, lineStyle: {color: '#111', width: 1.5}},
    axisTick: {show: true, customValues: ticks, length: 4, lineStyle: {color: '#111', width: 1}},
    axisLabel: {show: true, customValues: ticks, fontSize: 9, color: '#222', fontFamily: FAM,
      margin: isY ? 12 : 10, rotate: isY ? 90 : 0,
      formatter: function (v) { return Number(v).toFixed(dp); }},
    splitLine: {show: false}};
}

function bandSeries(gi, band, color) {
  return {type: 'custom', xAxisIndex: gi, yAxisIndex: gi, data: band, silent: true, clip: true,
    encode: {x: 0, y: 1},
    renderItem: function (params, api) {
      if (params.dataIndex !== 0) return null;
      var top = band.map(function (r) { return api.coord([r[0], r[2]]); });
      var bot = band.slice().reverse().map(function (r) { return api.coord([r[0], r[1]]); });
      return {type: 'polygon', shape: {points: top.concat(bot)}, style: {fill: color}};
    }};
}

function errorBars(gi, pts, colorOf, width) {
  return {type: 'custom', xAxisIndex: gi, yAxisIndex: gi, data: pts, silent: true, clip: true,
    encode: {x: 0, y: 1},
    renderItem: function (params, api) {
      var x = api.value(0);
      var a = api.coord([x, api.value(2)]), b = api.coord([x, api.value(3)]);
      return {type: 'line', shape: {x1: a[0], y1: a[1], x2: b[0], y2: b[1]},
        style: {stroke: colorOf(pts[params.dataIndex]), lineWidth: width}};
    }};
}

function segSeries(gi, data, color, width, type) {
  return {type: 'line', xAxisIndex: gi, yAxisIndex: gi, data: data, symbol: 'none', silent: true,
    lineStyle: {color: color, width: width, type: type}, z: 4};
}

plots.forEach(function (d, k) {
  var col = k % 3, row = Math.floor(k / 3);
  var gi = grid.length;
  grid.push({left: leftCols[col], top: leftRows[row], width: leftW[col], height: leftH[row]});
  xAxis.push(smallAxis(gi, d.xr, d.xt, 2, false));
  yAxis.push(smallAxis(gi, d.yr, d.yt, 1, true));
  series.push(bandSeries(gi, d.b95, GREEN), bandSeries(gi, d.b50, BLUE));
  if (d.pts[0].length > 2) {
    series.push(errorBars(gi, d.pts, function (p) { return ptColor(p, d, '#666'); }, col === 2 ? 1.3 : 1));
  }
  series.push({type: 'scatter', xAxisIndex: gi, yAxisIndex: gi, data: d.pts, symbolSize: d.size, silent: true,
    itemStyle: {color: function (p) { return ptColor(p.value, d, '#111'); }}});
  series.push(segSeries(gi, d.fit, '#111', 2, 'solid'), segSeries(gi, d.one, PURPLE, 1.6, [6, 4]));
});

// ---------- right panels ----------
function bigAxis(gi, r, ticks, fmt, isY, rot, margin) {
  return {gridIndex: gi, type: 'value', min: r[0], max: r[1],
    axisLine: {show: true, onZero: false, lineStyle: {color: '#222', width: 1.8}},
    axisTick: {show: true, customValues: ticks, length: 7, lineStyle: {color: '#222', width: 1.5}},
    axisLabel: {show: true, customValues: ticks, fontSize: isY ? 14 : 17, color: '#222', fontFamily: FAM,
      margin: margin, rotate: rot, formatter: fmt},
    splitLine: {show: false}};
}
var idx6 = [0, 1, 2, 3, 4, 5];
function taxFmt(v) { return taxLevels[Math.round(v)]; }
function fmt2(v) { return Number(v).toFixed(2); }
function fmt1(v) { return Number(v).toFixed(1); }

function r2Panel(box, xr, yr, yt, yfmt, calib, valid) {
  var gi = grid.length;
  grid.push({left: box[0], top: box[1], width: box[2], height: box[3]});
  xAxis.push(bigAxis(gi, xr, idx6, taxFmt, false, 45, 12));
  yAxis.push(bigAxis(gi, yr, yt, yfmt, true, 0, 15));
  var mk = function (name, vals, color) {
    return {type: 'line', name: name, xAxisIndex: gi, yAxisIndex: gi,
      data: vals.map(function (v, k) { return [k, v]; }),
      symbol: 'circle', symbolSize: 13, itemStyle: {color: color},
      lineStyle: {color: '#444', width: 1.5, type: [5, 4]}};
  };
  series.push(mk('validation', valid, '#c4c4c4'), mk('calibration', calib, '#000'));
}

function moranPanel(box, xr, yr, vals, lo, hi) {
  var gi = grid.length;
  grid.push({left: box[0], top: box[1], width: box[2], height: box[3]});
  xAxis.push(bigAxis(gi, xr, idx6, taxFmt, false, 45, 12));
  yAxis.push(bigAxis(gi, yr, ticksMoran, fmt1, true, 0, 15));
  var rows = vals.map(function (v, k) { return [k, v, lo[k], hi[k]]; });
  series.push(errorBars(gi, rows, function () { return '#000'; }, 3));
  series.push({type: 'scatter', xAxisIndex: gi, yAxisIndex: gi, data: rows, symbolSize: 12,
    itemStyle: {color: '#000'}, silent: true});
}

r2Panel([1032, 235, 253, 190], [-0.21, 5.17], [-0.0304, 0.274], ticksFungiR2, fmt2, fungiCalib, fungiValid);
moranPanel([1373, 235, 252, 190], [-0.19, 5.17], [0, 0.644], fungiMoran, fungiMoranLo, fungiMoranHi);
r2Panel([1033, 548, 252, 190], [-0.17, 5.19], [-0.03, 0.674], ticksBactR2, fmt1, bactCalib, bactValid);
moranPanel([1372, 548, 254, 190], [-0.21, 5.19], [0, 0.655], bactMoran, bactMoranLo, bactMoranHi);

// panel (c)
(function () {
  var gi = grid.length;
  grid.push({left: 1713, top: 237, width: 254, height: 501});
  xAxis.push(bigAxis(gi, [-0.131, 2.243], [0, 1, 2], function (v) { return scaleLevels[Math.round(v)]; }, false, 45, 14));
  yAxis.push(bigAxis(gi, [-0.0055, 0.14], ticksFungalVal, fmt2, true, 90, 17));
  var defs = [
    ['functional', valFunctional, '#d7262b', '#d7262b'],
    ['phylum', valPhylum, '#f4a45d', '#f4a45d'],
    ['class', valClass, '#fff6c0', '#fbf0b4'],
    ['order', valOrder, '#b6dcab', '#aad4a2'],
    ['family', valFamily, '#2c7db8', '#3684bc'],
    ['genus', valGenus, '#55b84a', '#55b84a']
  ];
  defs.forEach(function (s) {
    series.push({type: 'line', name: s[0], xAxisIndex: gi, yAxisIndex: gi,
      data: s[1].map(function (v, k) { return [k, v]; }),
      symbol: 'circle', symbolSize: 14,
      itemStyle: {color: s[2], borderColor: '#333', borderWidth: 1},
      lineStyle: {color: s[3], width: 2}});
  });
})();

// ---------- text / decoration ----------
var citeSize = 28;
var citeW = fontW('Averill et al ', '300 ' + citeSize + 'px ' + TFAM) +
            fontW('Nature Ecol & Evol 2021', 'italic 300 ' + citeSize + 'px ' + TFAM);
var elements = [
  {type: 'rect', shape: {x: 3, y: 183, width: 938, height: 942}, style: {fill: '#fff'}, z: -10, silent: true},
  {type: 'rect', shape: {x: 946, y: 183, width: 1054, height: 660}, style: {fill: '#fff'}, z: -10, silent: true},
  {type: 'text', x: 612, y: 162, z: 100, silent: true, scaleX: 492 / citeW, style: {
    text: '{n|Averill et al }{i|Nature Ecol & Evol 2021}', verticalAlign: 'middle', fill: '#fff',
    rich: {n: {fontSize: citeSize, fontFamily: TFAM, fontWeight: 300, fill: '#fff'},
           i: {fontSize: citeSize, fontFamily: TFAM, fontWeight: 300, fontStyle: 'italic', fill: '#fff'}}}},
  txt(203, 223, 'core-level', 26, {align: 'center'}),
  txt(498, 223, 'plot-level', 26, {align: 'center'}),
  txt(788, 223, 'site-level', 26, {align: 'center'}),
  txt(52, 358, 'Russula', 20, {align: 'center', rot: Math.PI / 2}),
  txt(52, 648, 'Ascomycota', 20, {align: 'center', rot: Math.PI / 2}),
  txt(52, 938, 'Oligotrophic Bacteria', 20, {align: 'center', rot: Math.PI / 2}),
  txt(23, 649, 'observed relative abundance', 26, {align: 'center', rot: Math.PI / 2}),
  txt(497, 1103, 'predicted relative abundance', 26, {align: 'center'}),
  txt(1034, 211, 'Fungi', 32),
  txt(1032, 524, 'Bacteria', 32),
  txt(1265, 262, '(a)', 20, {align: 'center'}),
  txt(1607, 262, '(b)', 20, {align: 'center'}),
  txt(1948, 260, '(c)', 20, {align: 'center'}),
  txt(1267, 573, '(d)', 20, {align: 'center'}),
  txt(1606, 573, '(e)', 20, {align: 'center'}),
  txt(1318, 327, "Moran's I", 24, {align: 'center', rot: Math.PI / 2}),
  txt(1318, 640, "Moran's I", 24, {align: 'center', rot: Math.PI / 2}),
  r2AxisName(972, 332, 'Site-Level ', 24),
  r2AxisName(970, 645, 'Site-Level ', 24),
  r2AxisName(1657, 497, 'Fungal Validation ', 21)
];
elements = elements.concat(spaced('SOIL', 22, 254, 47, 90), spaced('MICROBIOME', 22, 461, 150, 56));
var statX = [91, 381, 670], statY = [245, 534, 824];
for (var k = 0; k < 9; k++) elements = elements.concat(stats(statX[k % 3], statY[Math.floor(k / 3)], k));

var chart = echarts.init(document.getElementById('chart'));
chart.setOption({
  backgroundColor: '#000',
  animation: false,
  textStyle: {fontFamily: FAM},
  grid: grid,
  xAxis: xAxis,
  yAxis: yAxis,
  legend: [
    {data: ['calibration', 'validation'], left: 1040, top: 383, orient: 'vertical', icon: 'circle',
      itemWidth: 13, itemHeight: 13, itemGap: 6, selectedMode: false,
      textStyle: {fontSize: 15, lineHeight: 15, fontFamily: FAM, color: '#222', padding: [0, 0, 0, 1]}},
    {data: ['functional', 'phylum', 'class', 'order', 'family', 'genus'], left: 1722, top: 245,
      orient: 'vertical', icon: 'circle', itemWidth: 9, itemHeight: 9, itemGap: 3.5, selectedMode: false,
      textStyle: {fontSize: 14, lineHeight: 14, fontFamily: FAM, color: '#222', padding: [0, 0, 0, 3]}}
  ],
  graphic: {elements: elements},
  series: series
});
</script>
</body>
</html>
